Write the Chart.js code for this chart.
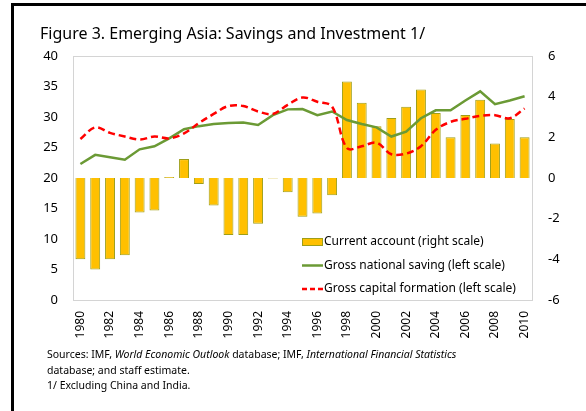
<!DOCTYPE html>
<html lang="en">
<head>
<meta charset="UTF-8">
<title>Figure 3. Emerging Asia: Savings and Investment</title>
<script src="https://cdn.jsdelivr.net/npm/chart.js@4.4.1/dist/chart.umd.min.js"></script>
<style>
    body { margin:0; background:#fff; font-family:"Noto Sans", sans-serif; color:#000; }
    #frame { position:absolute; left:11px; top:3px; width:620px; height:430px; border-left:3px solid #000; border-top:3px solid #000; }
    #title { position:absolute; left:40px; top:22px; font-size:16px; line-height:22px; white-space:nowrap; }
    #wrap { position:absolute; left:0; top:0; width:586px; height:350px; }
    #notes { position:absolute; left:47px; top:347px; font-size:10.5px; line-height:15.5px; white-space:nowrap; }
</style>
</head>
<body>
    <div id="frame"></div>
    <div id="wrap"><canvas id="myChart" width="586" height="350"></canvas></div>
    <div id="title">Figure 3. Emerging Asia: Savings and Investment 1/</div>
    <div id="notes">
        Sources: IMF, <i>World Economic Outlook</i> database; IMF, <i>International Financial Statistics</i><br>
        database; and staff estimate.<br>
        1/ Excluding China and India.
    </div>
<script>
    // data
    var years = [];
    for (var y = 1980; y <= 2010; y++) years.push(String(y));

    // current account, % of GDP (right scale)
    var currentAccount = [-4.0, -4.5, -4.0, -3.8, -1.7, -1.6, 0.05, 0.93, -0.3, -1.35,
        -2.8, -2.8, -2.25, -0.03, -0.7, -1.9, -1.75, -0.85,
        4.75, 3.7, 2.55, 2.95, 3.5, 4.35, 3.2, 2.0, 3.1, 3.85, 1.7, 2.9, 2.0];
    // gross national saving (left scale)
    var grossSaving = [22.3, 23.8, 23.4, 23.0, 24.7, 25.2, 26.5, 28.0, 28.5, 28.85,
        29.0, 29.1, 28.7, 30.3, 31.25, 31.3, 30.3, 30.9,
        29.5, 28.85, 28.3, 26.8, 27.6, 29.8, 31.1, 31.1, 32.7, 34.2, 32.1, 32.7, 33.4];
    // gross capital formation (left scale)
    var grossCapital = [26.4, 28.3, 27.4, 26.8, 26.3, 26.8, 26.5, 27.3, 29.0, 30.5,
        31.8, 31.8, 30.9, 30.5, 32.0, 33.2, 32.5, 31.7,
        24.9, 25.2, 25.8, 23.9, 24.0, 25.2, 27.9, 29.2, 29.7, 30.2, 30.3, 29.8, 31.4];

    var leftTicks = { min: 0, max: 40, step: 5 };
    var rightTicks = { min: -6, max: 6, step: 2 };

    var legendItems = [
        { type: 'bar', text: 'Current account (right scale)' },
        { type: 'line', text: 'Gross national saving (left scale)' },
        { type: 'dash', text: 'Gross capital formation (left scale)' }
    ];

    var C_BAR = '#FFC000', C_BAR_EDGE = '#9E9E18', C_GREEN = '#6B9A35', C_RED = '#FF0000';
    var FONT = '"Noto Sans", sans-serif';

    // box round the plot + legend inside it
    var boxPlugin = {
        id: 'boxAndLegend',
        afterDraw: function(chart) {
            var c = chart.ctx, a = chart.chartArea;
            c.save();
            c.strokeStyle = '#d4d4d4';
            c.lineWidth = 1;
            c.strokeRect(Math.round(a.left) + 0.5, Math.round(a.top) + 0.5,
                Math.round(a.right - a.left), Math.round(a.bottom - a.top));

            var x0 = 302, y0 = 242, gap = 23.5;
            c.font = '12px ' + FONT;
            c.textBaseline = 'middle';
            legendItems.forEach(function(it, i) {
                var yy = y0 + i * gap;
                if (it.type === 'bar') {
                    c.fillStyle = C_BAR;
                    c.fillRect(x0, yy - 3.5, 20, 7);
                    c.strokeStyle = C_BAR_EDGE;
                    c.strokeRect(x0 + 0.5, yy - 3.5, 20, 7);
                } else {
                    c.beginPath();
                    c.strokeStyle = it.type === 'line' ? C_GREEN : C_RED;
                    c.lineWidth = 2.5;
                    c.setLineDash(it.type === 'dash' ? [5, 3] : []);
                    c.moveTo(x0, yy);
                    c.lineTo(x0 + 21, yy);
                    c.stroke();
                    c.setLineDash([]);
                    c.lineWidth = 1;
                }
                c.fillStyle = '#000';
                c.fillText(it.text, x0 + 22, yy);
            });
            c.restore();
        }
    };

    var ctx = document.getElementById('myChart').getContext('2d');
    var myChart = new Chart(ctx, {
        data: {
            labels: years,
            datasets: [{
                type: 'line',
                label: 'Gross national saving (left scale)',
                data: grossSaving,
                yAxisID: 'y',
                borderColor: C_GREEN,
                borderWidth: 2.5,
                pointRadius: 0,
                tension: 0,
                order: 2
            }, {
                type: 'line',
                label: 'Gross capital formation (left scale)',
                data: grossCapital,
                yAxisID: 'y',
                borderColor: C_RED,
                borderWidth: 2.5,
                borderDash: [7, 4],
                pointRadius: 0,
                tension: 0.35,
                order: 1
            }, {
                type: 'bar',
                label: 'Current account (right scale)',
                data: currentAccount,
                yAxisID: 'y1',
                backgroundColor: C_BAR,
                borderColor: C_BAR_EDGE,
                borderWidth: 1,
                categoryPercentage: 1,
                barPercentage: 0.67,
                order: 3
            }]
        },
        options: {
            responsive: false,
            animation: false,
            layout: { padding: { top: 56, left: 0, right: 0, bottom: 0 } },
            plugins: { legend: { display: false }, tooltip: { enabled: false } },
            scales: {
                x: {
                    grid: { display: false, drawTicks: false },
                    border: { display: false },
                    ticks: {
                        autoSkip: false, minRotation: 90, maxRotation: 90, padding: 11,
                        color: '#000', font: { family: FONT, size: 12 },
                        callback: function(v, i) { return i % 2 === 0 ? years[i] : ''; }
                    },
                    afterFit: function(s) { s.height = 50; }
                },
                y: {
                    position: 'left',
                    min: leftTicks.min, max: leftTicks.max,
                    grid: { display: false, drawTicks: false },
                    border: { display: false },
                    ticks: { stepSize: leftTicks.step, padding: 15, color: '#000', font: { family: FONT, size: 13 } },
                    afterFit: function(s) { s.width = 73; }
                },
                y1: {
                    position: 'right',
                    min: rightTicks.min, max: rightTicks.max,
                    grid: { display: false, drawTicks: false },
                    border: { display: false },
                    ticks: { stepSize: rightTicks.step, padding: 16, color: '#000', font: { family: FONT, size: 13 } },
                    afterFit: function(s) { s.width = 54; }
                }
            }
        },
        plugins: [boxPlugin]
    });
</script>
</body>
</html>
